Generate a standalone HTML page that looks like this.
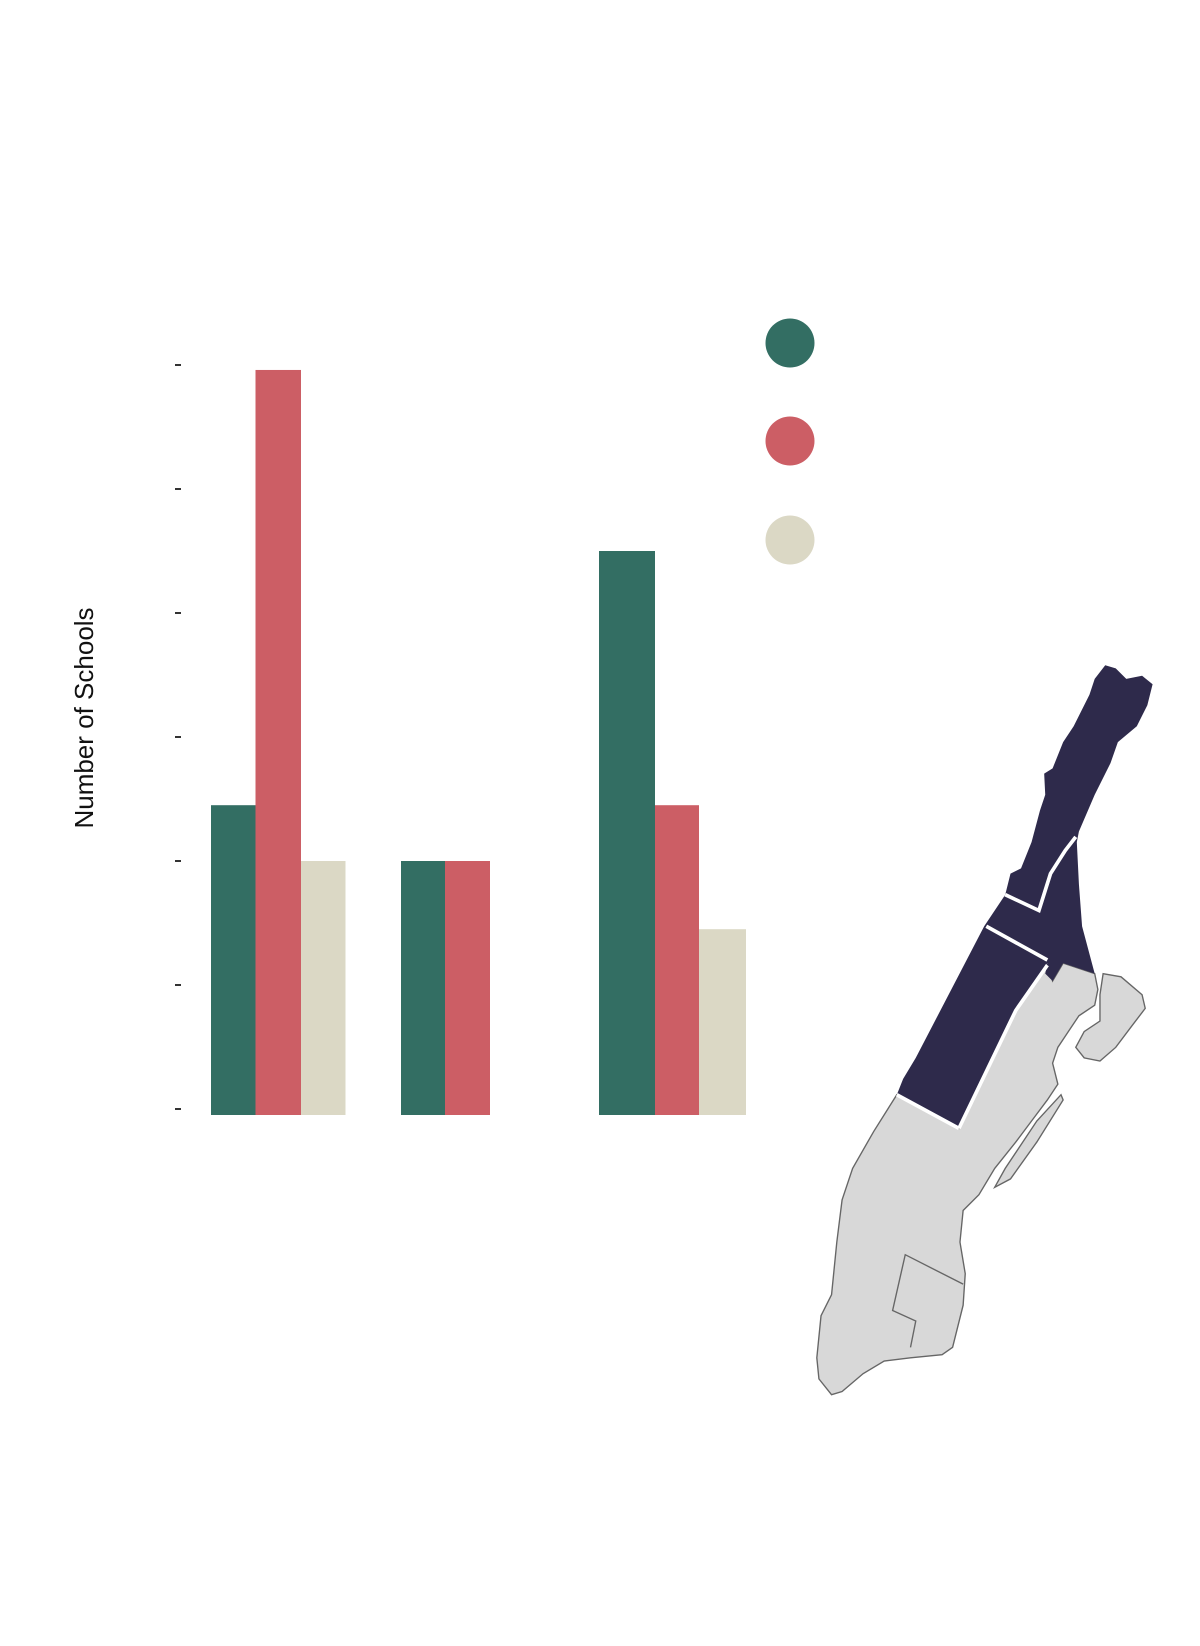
<!DOCTYPE html>
<html><head><meta charset="utf-8"><style>
html,body{margin:0;padding:0;background:#fff;}
svg{display:block;font-family:"Liberation Sans",sans-serif;}
</style></head><body>
<svg id="chart" width="1200" height="1646" viewBox="0 0 1200 1646" xmlns="http://www.w3.org/2000/svg">
<g id="axis"></g>
<g id="bars"></g>
<text transform="translate(93,718) rotate(-90)" text-anchor="middle" font-size="26" fill="#111">Number of Schools</text>
<g>
<circle cx="790" cy="343" r="24.5" fill="#336e63"/>
<circle cx="790" cy="441" r="24.5" fill="#cc5e65"/>
<circle cx="790" cy="540" r="24.5" fill="#dbd8c5"/>
</g>
<g transform="scale(1.0526)">
<path fill="#d8d8d8" stroke="#666" stroke-width="1.3" d="M911,1072 L965,960 L995,917 L1000,932 L1010,915 L1040,925 L1043,940 L1040,955 L1025,965 L1015,980 L1005,995 L1000,1010 L1005,1030 L995,1045 L980,1065 L965,1085 L945,1110 L930,1135 L915,1150 L912,1180 L917,1210 L915,1240 L905,1280 L895,1287 L865,1290 L840,1293 L820,1305 L800,1322 L790,1325 L778,1310 L776,1290 L780,1250 L790,1230 L795,1180 L800,1140 L810,1110 L830,1075 L852,1040 Z"/>
<path fill="none" stroke="#666" stroke-width="1.3" d="M915,1220 L860,1192 L848,1245 L870,1255 L865,1280"/>
<path fill="#d8d8d8" stroke="#666" stroke-width="1.3" d="M1048,925 L1065,928 L1085,945 L1088,958 L1075,975 L1060,995 L1045,1008 L1030,1005 L1022,995 L1030,980 L1045,970 L1045,945 Z"/>
<path fill="#d8d8d8" stroke="#666" stroke-width="1.3" d="M1008,1040 L1010,1045 L985,1085 L960,1120 L945,1128 L955,1110 L985,1065 Z"/>
<path fill="#2e2a4b" d="M1050,632 L1060,635 L1070,645 L1085,642 L1095,650 L1090,670 L1080,690 L1062,705 L1055,725 L1040,755 L1025,790 L1023,800 L1025,840 L1028,880 L1040,925 L1010,915 L1000,932 L993,925 L995,915 L965,960 L911,1072 L852,1040 L858,1025 L870,1005 L935,880 L955,850 L960,830 L970,825 L980,800 L988,770 L993,755 L992,735 L1000,730 L1010,705 L1020,690 L1035,660 L1040,645 Z"/>
<path fill="none" stroke="#fff" stroke-width="3.5" d="M955,850 L987,865 L998,830 L1012,808 L1022,795 M937,880 L995,912 M911,1072 L965,960 L995,917 M852,1040 L911,1072"/>
</g>
</svg>
<script>
const categories = ["A", "B", "C"];
const greenValues = [2.45, 2, 4.5];
const redValues = [5.96, 2, 2.45];
const beigeValues = [2, 0, 1.45];
const tickValues = [0, 1, 2, 3, 4, 5, 6];

const colors = ["#336e63", "#cc5e65", "#dbd8c5"];
const series = [greenValues, redValues, beigeValues];
const zeroY = 1109, baseY = 1115, unit = 124;
function y(v){ return zeroY - v * unit; }
const groupX = [211, 401, 599];
const groupW = [[44.5,45.5,44.5],[44,45,44],[56,44,47]];
const svgNS = "http://www.w3.org/2000/svg";
const axis = document.getElementById('axis');
tickValues.forEach(t => {
  const l = document.createElementNS(svgNS, 'line');
  
  
  l.setAttribute('x1', 175); l.setAttribute('x2', 181);
  l.setAttribute('y1', y(t)); l.setAttribute('y2', y(t));
  l.setAttribute('stroke', '#333'); l.setAttribute('stroke-width', 2);
  axis.appendChild(l);
});
const bars = document.getElementById('bars');
categories.forEach((c, i) => {
  let x = groupX[i];
  series.forEach((s, j) => {
    const w = groupW[i][j];
    const v = s[i];
    if (v > 0) {
      const r = document.createElementNS(svgNS, 'rect');
      
      
      r.setAttribute('x', x); r.setAttribute('width', w);
      r.setAttribute('y', y(v)); r.setAttribute('height', baseY - y(v));
      r.setAttribute('fill', colors[j]);
      bars.appendChild(r);
    }
    x += w;
  });
});
</script>
</body></html>
